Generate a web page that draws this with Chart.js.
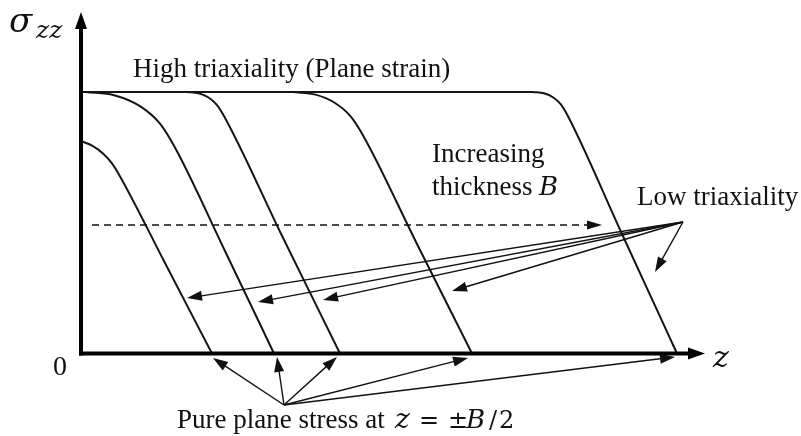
<!DOCTYPE html>
<html>
<head>
<meta charset="utf-8">
<script src="https://cdn.jsdelivr.net/npm/chart.js@4.4.1/dist/chart.umd.min.js"></script>
<style>
  html, body { margin: 0; padding: 0; background: #fff; }
  #wrap { width: 801px; height: 436px; position: relative; }
</style>
</head>
<body>
<div id="wrap"><canvas id="stressChart"></canvas></div>
<script>
// Axis extents (z along thickness, sigma_zz normalised to the plateau)
const zMax = 6.24;
const sigmaMax = 1.306;

// Plane strain plateau
const plateauZ = [0, 4.52];
const plateauSigma = [1, 1];

// Stress profiles, thinnest to thickest plate
const curve1Z = [0, 0.115, 0.217, 0.306, 0.382, 0.84, 1.31];
const curve1Sigma = [0.813, 0.794, 0.766, 0.729, 0.683, 0.346, 0];

const curve2Z = [0.05, 0.34, 0.59, 0.79, 0.945, 1.44, 1.93];
const curve2Sigma = [1, 0.987, 0.946, 0.879, 0.784, 0.392, 0];

const curve3Z = [1.06, 1.176, 1.275, 1.356, 1.42, 2.00, 2.59];
const curve3Sigma = [1, 0.995, 0.979, 0.952, 0.915, 0.458, 0];

const curve4Z = [2.12, 2.345, 2.536, 2.694, 2.818, 3.36, 3.91];
const curve4Sigma = [1, 0.990, 0.959, 0.908, 0.836, 0.419, 0];

const curve5Z = [4.52, 4.63, 4.723, 4.799, 4.857, 5.41, 5.96];
const curve5Sigma = [1, 0.995, 0.979, 0.953, 0.917, 0.457, 0];

// Dashed "increasing thickness" arrow
const dashedZ = [0.11, 5.21];
const dashedSigma = 0.491;

// Low triaxiality pointers: common start, one tip per profile
const lowTriaxStart = [6.02, 0.503];
const lowTriaxZ = [1.06, 1.77, 2.42, 3.71, 5.74];
const lowTriaxSigma = [0.212, 0.197, 0.205, 0.239, 0.312];

// Plane stress pointers to the free surfaces z = B/2
const planeStressStart = [2.03, -0.197];
const planeStressZ = [1.32, 1.96, 2.56, 3.87, 5.94];
const planeStressSigma = [-0.017, -0.013, -0.013, -0.017, -0.013];

function toPoints(zs, ss) {
    return zs.map((z, i) => ({ x: z, y: ss[i] }));
}

function curveDataset(zs, ss) {
    return {
        data: toPoints(zs, ss),
        showLine: true,
        borderColor: '#151515',
        borderWidth: 2,
        pointRadius: 0,
        cubicInterpolationMode: 'monotone',
        fill: false,
        clip: false
    };
}

function arrowHead(ctx, x1, y1, x2, y2, len, half) {
    const a = Math.atan2(y2 - y1, x2 - x1);
    ctx.beginPath();
    ctx.moveTo(x2, y2);
    ctx.lineTo(x2 - len * Math.cos(a) + half * Math.sin(a), y2 - len * Math.sin(a) - half * Math.cos(a));
    ctx.lineTo(x2 - len * Math.cos(a) - half * Math.sin(a), y2 - len * Math.sin(a) + half * Math.cos(a));
    ctx.closePath();
    ctx.fill();
}

function arrow(ctx, x1, y1, x2, y2, len, half) {
    const a = Math.atan2(y2 - y1, x2 - x1);
    ctx.beginPath();
    ctx.moveTo(x1, y1);
    ctx.lineTo(x2 - (len - 2) * Math.cos(a), y2 - (len - 2) * Math.sin(a));
    ctx.stroke();
    arrowHead(ctx, x1, y1, x2, y2, len, half);
}

const SERIF = '"Liberation Serif", "Times New Roman", serif';
const MATH = '"DejaVu Serif", "Liberation Serif", serif';

// Axes, pointers and labels
const schematicPlugin = {
    id: 'schematic',
    afterDatasetsDraw(chart) {
        const ctx = chart.ctx;
        const xs = chart.scales.x;
        const ys = chart.scales.y;
        const px = v => xs.getPixelForValue(v);
        const py = v => ys.getPixelForValue(v);

        ctx.save();
        ctx.fillStyle = '#111';
        ctx.strokeStyle = '#111';

        // dashed arrow
        ctx.lineWidth = 1.5;
        ctx.setLineDash([7, 5]);
        ctx.beginPath();
        ctx.moveTo(px(dashedZ[0]), py(dashedSigma));
        ctx.lineTo(px(dashedZ[1]) - 12, py(dashedSigma));
        ctx.stroke();
        ctx.setLineDash([]);
        arrowHead(ctx, px(dashedZ[0]), py(dashedSigma), px(dashedZ[1]), py(dashedSigma), 15, 4.5);

        // low triaxiality pointers
        ctx.lineWidth = 1.4;
        lowTriaxZ.forEach((z, i) => {
            arrow(ctx, px(lowTriaxStart[0]), py(lowTriaxStart[1]), px(z), py(lowTriaxSigma[i]), 15, 5);
        });

        // plane stress pointers
        planeStressZ.forEach((z, i) => {
            arrow(ctx, px(planeStressStart[0]), py(planeStressStart[1]), px(z), py(planeStressSigma[i]), 15, 5);
        });

        // axes
        const x0 = px(0), y0 = py(0);
        ctx.lineWidth = 4;
        ctx.fillStyle = '#000';
        ctx.strokeStyle = '#000';
        ctx.beginPath();
        ctx.moveTo(x0, y0 + 2);
        ctx.lineTo(x0, py(sigmaMax) + 12);
        ctx.stroke();
        arrowHead(ctx, x0, y0, x0, py(sigmaMax), 17, 6);
        ctx.beginPath();
        ctx.moveTo(x0 - 2, y0);
        ctx.lineTo(px(zMax) - 12, y0);
        ctx.stroke();
        arrowHead(ctx, x0, y0, px(zMax), y0, 17, 6);

        // labels
        ctx.fillStyle = '#111';
        ctx.textBaseline = 'alphabetic';
        ctx.textAlign = 'left';
        ctx.font = '27px ' + SERIF;
        ctx.fillText('High triaxiality (Plane strain)', 133, 77);
        ctx.fillText('Increasing', 432, 162);
        ctx.fillText('thickness', 432, 195);
        ctx.fillText('Low triaxiality', 637, 205);
        ctx.fillText('Pure plane stress at', 177, 428);
        ctx.font = '28px ' + SERIF;
        ctx.fillText('0', 53, 375);

        ctx.font = 'italic 26px ' + MATH;
        ctx.fillText('B', 539, 195);
        ctx.fillText('B', 466, 428);
        ctx.font = 'italic 30px ' + MATH;
        ctx.fillText('z', 713, 367);
        ctx.font = 'italic 28px ' + MATH;
        ctx.fillText('z', 395, 428);
        ctx.font = 'italic 34px ' + MATH;
        ctx.fillText('σ', 9, 32);
        ctx.font = 'italic 25px ' + MATH;
        ctx.fillText('zz', 36, 38);
        ctx.font = '24px ' + MATH;
        ctx.fillText('=', 419, 428);
        ctx.fillText('±', 448, 428);
        ctx.fillText('/', 489, 428);
        ctx.fillText('2', 499, 428);
        ctx.restore();
    }
};

new Chart(document.getElementById('stressChart'), {
    type: 'scatter',
    data: {
        datasets: [
            curveDataset(plateauZ, plateauSigma),
            curveDataset(curve1Z, curve1Sigma),
            curveDataset(curve2Z, curve2Sigma),
            curveDataset(curve3Z, curve3Sigma),
            curveDataset(curve4Z, curve4Sigma),
            curveDataset(curve5Z, curve5Sigma)
        ]
    },
    options: {
        responsive: true,
        maintainAspectRatio: false,
        animation: false,
        devicePixelRatio: 1,
        layout: { padding: { left: 81, top: 12, right: 96, bottom: 82.5 } },
        scales: {
            x: { type: 'linear', min: 0, max: zMax, display: false },
            y: { type: 'linear', min: 0, max: sigmaMax, display: false }
        },
        plugins: {
            legend: { display: false },
            tooltip: { enabled: false }
        }
    },
    plugins: [schematicPlugin]
});
</script>
</body>
</html>
